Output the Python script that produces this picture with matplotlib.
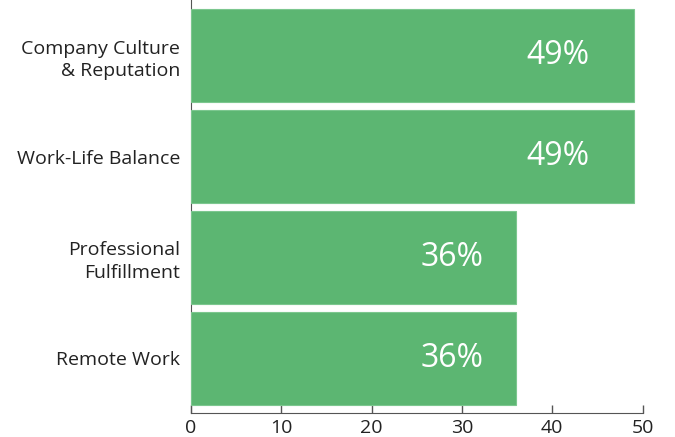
import matplotlib.pyplot as plt

# Share of respondents citing each factor
categories = ["Company Culture\n& Reputation", "Work-Life Balance",
              "Professional\nFulfillment", "Remote Work"]
values = [49, 49, 36, 36]
labels = ["49%", "49%", "36%", "36%"]

plt.rcParams["font.family"] = ["Open Sans", "DejaVu Sans"]

fig = plt.figure(figsize=(6.75, 4.37), dpi=100)
ax = fig.add_axes([0.283, 0.055, 0.669, 0.945])

ypos = list(range(len(categories)))
ax.barh(ypos, values, height=0.92, color="#5cb672", edgecolor="#7cc78f",
        linewidth=0.8, zorder=3)

for y, v, lab in zip(ypos, values, labels):
    ax.text(v * 0.9, y, lab, ha="right", va="center", color="white",
            fontsize=23, zorder=4)

ax.set_yticks(ypos)
ax.set_yticklabels(categories, fontsize=14, color="#222222", linespacing=1.3)
ax.set_ylim(3.54, -0.55)
ax.set_xlim(0, 50)
ax.set_xticks([0, 10, 20, 30, 40, 50])
ax.tick_params(axis="x", direction="in", length=5.5, width=1, color="#555555",
               labelsize=14, labelcolor="#222222", pad=4)
ax.tick_params(axis="y", length=0, pad=8)

ax.spines["top"].set_visible(False)
ax.spines["right"].set_visible(False)
ax.spines["bottom"].set_color("#555555")
ax.spines["left"].set_color("#555555")

fig.savefig("out.png", dpi=100)
